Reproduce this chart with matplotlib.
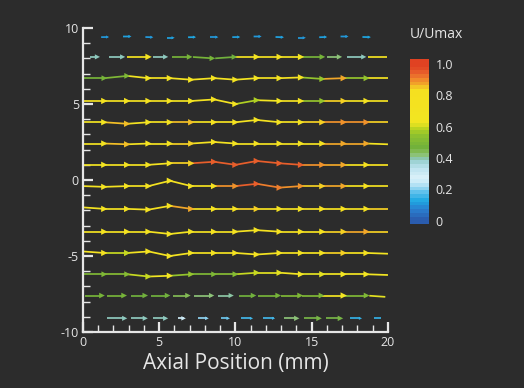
import numpy as np
import matplotlib
matplotlib.use('Agg')
import matplotlib.pyplot as plt
from matplotlib.collections import LineCollection
from matplotlib.colors import LinearSegmentedColormap, Normalize

# stations along the axis where each streamline piece ends (mm)
xs = [0, 1.4, 2.9, 4.3, 5.7, 7.1, 8.6, 10, 11.4, 12.9, 14.3, 15.7, 17.1, 18.6, 20]

# radial position of each streamline (mm)
rows_y = [9.4, 8.1, 6.7, 5.2, 3.8, 2.4, 1.0, -0.4, -1.9, -3.4, -4.8, -6.2, -7.6, -9.1]

# U/Umax for each of the 14 pieces of every streamline
u_rows = [
    [0.10, 0.11, 0.10, 0.11, 0.12, 0.10, 0.11, 0.10, 0.11, 0.10, 0.11, 0.10, 0.12, 0.10],
    [0.39, 0.39, 0.74, 0.39, 0.48, 0.48, 0.46, 0.72, 0.75, 0.70, 0.48, 0.42, 0.39, 0.72],
    [0.48, 0.50, 0.70, 0.75, 0.73, 0.72, 0.72, 0.70, 0.75, 0.75, 0.55, 0.88, 0.55, 0.72],
    [0.75, 0.75, 0.75, 0.75, 0.70, 0.75, 0.72, 0.58, 0.68, 0.75, 0.55, 0.85, 0.75, 0.75],
    [0.70, 0.86, 0.72, 0.75, 0.86, 0.75, 0.78, 0.72, 0.75, 0.75, 0.85, 0.90, 0.90, 0.85],
    [0.72, 0.86, 0.75, 0.75, 0.85, 0.75, 0.72, 0.75, 0.75, 0.75, 0.75, 0.88, 0.88, 0.72],
    [0.70, 0.75, 0.75, 0.76, 0.85, 0.95, 0.95, 0.95, 0.95, 0.95, 0.90, 0.88, 0.80, 0.82],
    [0.72, 0.75, 0.75, 0.75, 0.76, 0.80, 0.90, 0.95, 0.92, 0.90, 0.85, 0.88, 0.80, 0.75],
    [0.72, 0.75, 0.78, 0.80, 0.88, 0.75, 0.78, 0.85, 0.78, 0.76, 0.80, 0.82, 0.78, 0.85],
    [0.72, 0.75, 0.72, 0.75, 0.70, 0.75, 0.75, 0.75, 0.78, 0.80, 0.80, 0.85, 0.88, 0.85],
    [0.75, 0.60, 0.72, 0.72, 0.72, 0.75, 0.75, 0.75, 0.72, 0.75, 0.75, 0.85, 0.80, 0.70],
    [0.50, 0.52, 0.60, 0.65, 0.55, 0.50, 0.52, 0.60, 0.62, 0.65, 0.62, 0.65, 0.68, 0.65],
    [0.48, 0.48, 0.46, 0.46, 0.44, 0.42, 0.40, 0.46, 0.48, 0.50, 0.50, 0.68, 0.50, 0.62],
    [0.39, 0.39, 0.39, 0.39, 0.30, 0.20, 0.18, 0.15, 0.15, 0.42, 0.45, 0.45, 0.14, 0.14],
]

# small radial wander of each streamline at the stations (mm)
dy_rows = [
    [0, 0, 0.05, 0, -0.05, 0, 0, 0, 0.05, 0, -0.05, 0, 0.05, 0, 0],
    [0, 0, 0, 0, 0, 0, -0.1, 0, 0, 0, 0, 0, 0, 0, 0],
    [0, 0, 0.15, 0, 0, -0.1, 0, -0.1, 0, 0, 0.05, -0.05, 0, 0, 0],
    [0, 0, 0, 0, 0, 0, 0.1, -0.2, 0.05, 0, 0, 0, 0, 0, 0],
    [0, 0, -0.1, 0, 0, 0, 0, 0, 0.15, 0, 0, 0, 0, 0, 0],
    [0, 0, -0.05, 0, 0, 0, 0.1, 0, 0, 0, 0, 0, 0, 0, -0.05],
    [0, 0, 0, 0, 0.1, 0.1, 0.2, 0, 0.25, 0.1, 0, 0, 0, 0, 0],
    [0, -0.05, 0, 0, 0.35, 0, 0, 0, 0.15, -0.1, 0, 0, 0, 0, 0],
    [0.1, 0, 0, -0.05, 0.2, 0, 0, 0, 0, 0, 0, 0, 0, 0, 0],
    [0, 0, 0, 0, -0.15, 0, 0, 0, 0.1, 0, 0, 0, 0, 0, 0],
    [0.1, 0, 0, 0.1, -0.2, 0, 0, 0, -0.1, 0, 0, 0, 0, 0, -0.05],
    [0, 0, 0, -0.15, -0.1, 0, 0, 0, 0.1, 0.1, 0, 0, 0, 0, -0.05],
    [0, 0, 0, 0, 0, 0, 0, 0, 0, 0, 0, 0, 0, 0, -0.1],
    [0, 0, 0, 0, 0, 0, 0, 0, 0, 0, 0, 0, 0, 0, 0],
]

# drawn share of each piece (dashes near the wall) and dash centre shift (mm)
full = [1.0] * 14
frac_rows = [
    [0.3] * 13 + [0.0],
    [0.35, 0.6, 1, 0.6, 0.85, 0.85, 0.9, 1, 1, 1, 1, 0.6, 0.75, 0.9],
    full, full, full, full, full, full, full, full, full, full,
    [0.78, 0.73, 0.69, 0.78, 0.69, 0.78, 0.6, 0.69, 0.87, 0.92, 0.92, 1.0, 1.0, 0.75],
    [0.0, 0.78, 0.69, 0.6, 0.28, 0.37, 0.32, 0.5, 0.46, 0.6, 0.69, 0.69, 0.46, 0.32],
]
shift_rows = [0.7] + [0.0] * 13

cbar_ticks = [0, 0.2, 0.4, 0.6, 0.8, 1.0]
cbar_labels = ['0', '0.2', '0.4', '0.6', '0.8', '1.0']

bg = '#2c2c2c'
fg = '#e6e6e6'
cmap = LinearSegmentedColormap.from_list('umax', [
    (0.00, '#2a5cae'), (0.06, '#2a7fd0'), (0.12, '#1ea8e2'), (0.17, '#5cc0ec'),
    (0.22, '#b0e0f4'), (0.26, '#dcf2fa'), (0.32, '#c4e6f2'), (0.36, '#a8d8e0'),
    (0.39, '#8cc8bc'), (0.43, '#8cc060'), (0.46, '#70b03c'), (0.54, '#8cc030'),
    (0.59, '#b8d420'), (0.63, '#f2e622'), (0.84, '#f6e020'), (0.87, '#f2b428'),
    (0.91, '#f08a2c'), (0.95, '#e8602c'), (1.00, '#e04222'),
])
norm = Normalize(0, 1)

plt.rcParams['font.family'] = ['Open Sans', 'DejaVu Sans']
plt.rcParams['axes.unicode_minus'] = False
fig = plt.figure(figsize=(5.24, 3.88), dpi=100, facecolor=bg)
ax = fig.add_axes([0.1584, 0.1443, 0.582, 0.7835], facecolor=bg)

segs, seg_u, ax_x, ax_y, ax_u = [], [], [], [], []
for r in range(len(rows_y)):
    yv = [rows_y[r] + d for d in dy_rows[r]]
    for j in range(14):
        f = frac_rows[r][j]
        if f <= 0:
            continue
        x0, x1 = xs[j], xs[j + 1]
        h = x1 - x0
        c = 0.5 * (x0 + x1) + shift_rows[r]
        a, b = c - 0.5 * f * h, c + 0.5 * f * h
        ya = np.interp(a, xs, yv)
        yb = np.interp(b, xs, yv)
        segs.append([(a, ya), (b, yb)])
        seg_u.append(u_rows[r][j])
        if j < 13:
            ax_x.append(b)
            ax_y.append(yb)
            ax_u.append(u_rows[r][j])

lc = LineCollection(segs, colors=cmap(norm(seg_u)), linewidths=1.25, capstyle='butt', zorder=2)
ax.add_collection(lc)
ax_u = np.array(ax_u)
ax.scatter(ax_x, ax_y, c=ax_u, cmap=cmap, norm=norm, marker='>',
           s=21 * np.clip(ax_u / 0.6, 0.25, 1.0), linewidths=0, zorder=3)

ax.set_xlim(0, 20)
ax.set_ylim(-10, 10)
for s in ['top', 'right']:
    ax.spines[s].set_visible(False)
for s in ['left', 'bottom']:
    ax.spines[s].set_color(fg)
    ax.spines[s].set_linewidth(1.6)
ax.set_xticks([0, 5, 10, 15, 20])
ax.set_yticks([-10, -5, 0, 5, 10])
ax.set_xticks(range(0, 21), minor=True)
ax.set_yticks(range(-10, 11), minor=True)
ax.tick_params(which='major', direction='in', length=7, width=1.6, color=fg,
               labelcolor=fg, labelsize=9, pad=3)
ax.tick_params(which='minor', direction='in', length=5, width=1.0, color=fg)
ax.set_xlabel('Axial Position (mm)', color=fg, fontsize=15, labelpad=3)

# colour bar
cax = fig.add_axes([0.782, 0.4227, 0.036, 0.425])
grad = np.linspace(-0.02, 1.03, 44).reshape(-1, 1)
cax.imshow(grad, cmap=cmap, norm=norm, origin='lower', aspect='auto',
           extent=[0, 1, -0.02, 1.03], interpolation='nearest')
cax.set_xticks([])
cax.yaxis.tick_right()
cax.set_yticks(cbar_ticks)
cax.set_yticklabels(cbar_labels)
cax.tick_params(axis='y', length=0, labelcolor=fg, labelsize=9, pad=5)
for s in cax.spines.values():
    s.set_visible(False)
fig.text(0.832, 0.912, 'U/Umax', color=fg, fontsize=10, ha='center', va='center')

fig.savefig('out.png', dpi=100, facecolor=bg)
